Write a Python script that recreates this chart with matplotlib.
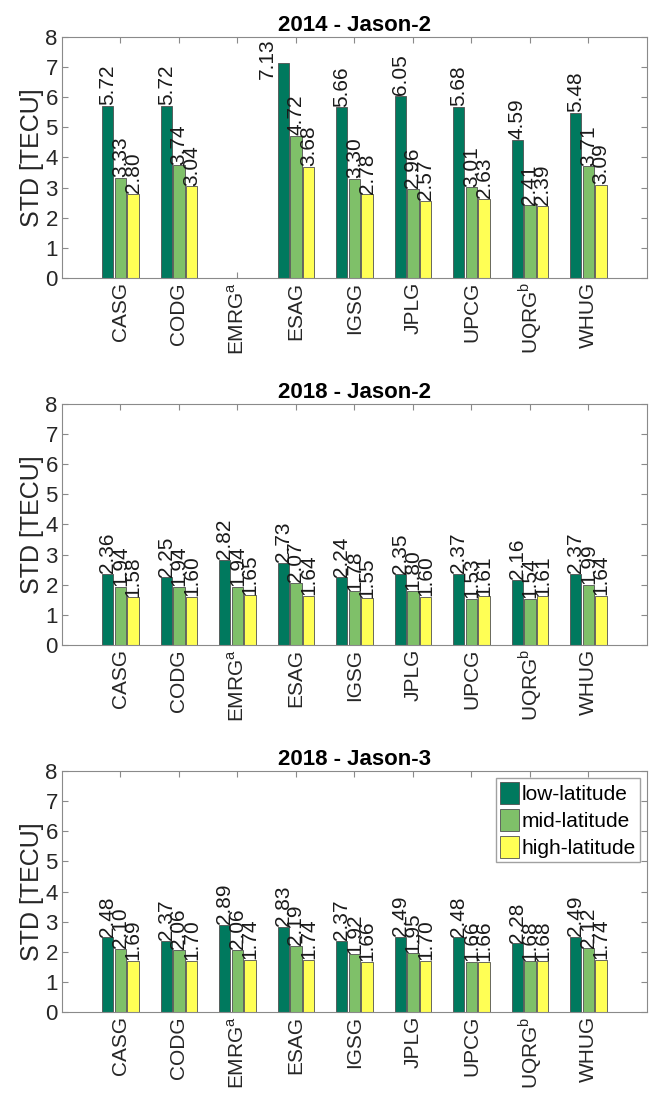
import numpy as np
import matplotlib.pyplot as plt

plt.rcParams['font.family'] = 'Liberation Sans'
plt.rcParams['mathtext.fontset'] = 'custom'
plt.rcParams['mathtext.rm'] = 'Liberation Sans'

centers = ['CASG', 'CODG', r'EMRG$^{\mathrm{a}}$', 'ESAG', 'IGSG',
           'JPLG', 'UPCG', r'UQRG$^{\mathrm{b}}$', 'WHUG']
regions = ['low-latitude', 'mid-latitude', 'high-latitude']

# STD per analysis centre: low / mid / high latitude
j2_2014_low = [5.72, 5.72, np.nan, 7.13, 5.66, 6.05, 5.68, 4.59, 5.48]
j2_2014_mid = [3.33, 3.74, np.nan, 4.72, 3.30, 2.96, 3.01, 2.41, 3.71]
j2_2014_high = [2.80, 3.04, np.nan, 3.68, 2.78, 2.57, 2.63, 2.39, 3.09]

j2_2018_low = [2.36, 2.25, 2.82, 2.73, 2.24, 2.35, 2.37, 2.16, 2.37]
j2_2018_mid = [1.94, 1.94, 1.94, 2.07, 1.78, 1.80, 1.53, 1.54, 1.99]
j2_2018_high = [1.58, 1.60, 1.65, 1.64, 1.55, 1.60, 1.61, 1.61, 1.64]

j3_2018_low = [2.48, 2.37, 2.89, 2.83, 2.37, 2.49, 2.48, 2.28, 2.49]
j3_2018_mid = [2.10, 2.06, 2.06, 2.19, 1.92, 1.95, 1.66, 1.68, 2.12]
j3_2018_high = [1.69, 1.70, 1.74, 1.74, 1.66, 1.70, 1.66, 1.68, 1.74]

panels = [
    ('2014 - Jason-2', [j2_2014_low, j2_2014_mid, j2_2014_high]),
    ('2018 - Jason-2', [j2_2018_low, j2_2018_mid, j2_2018_high]),
    ('2018 - Jason-3', [j3_2018_low, j3_2018_mid, j3_2018_high]),
]

colors = ['#00795E', '#7FC069', '#FFFF55']
offsets = [-0.215, 0.0, 0.215]
bar_w = 0.19
ymax = 8

fig = plt.figure(figsize=(6.51, 10.93), dpi=100)
bottoms = [0.7457, 0.4099, 0.0741]

x = np.arange(1, len(centers) + 1)

for (title, series), b in zip(panels, bottoms):
    ax = fig.add_axes([0.0952, b, 0.8986, 0.2205])
    for vals, col, off, name in zip(series, colors, offsets, regions):
        vals = np.array(vals, dtype=float)
        ax.bar(x + off, vals, width=bar_w, color=col, edgecolor='#505050',
               linewidth=0.6, label=name, zorder=2)
        for xi, v in zip(x + off, vals):
            if np.isnan(v):
                continue
            if v + 1.4 > ymax:
                # no room above the bar, tuck the label in beside it
                ax.text(xi - 0.27, ymax - 0.05, f'{v:.2f}', rotation=90,
                        rotation_mode='anchor', ha='right', va='center',
                        fontsize=15, color='#1a1a1a')
            else:
                ax.text(xi, v + 0.02, f'{v:.2f}', rotation=90,
                        rotation_mode='anchor', ha='left', va='center',
                        fontsize=15, color='#1a1a1a')

    ax.set_xlim(0, len(centers) + 1)
    ax.set_ylim(0, ymax)
    ax.set_xticks(x)
    ax.set_xticklabels(centers, rotation=90, fontsize=15)
    ax.set_yticks(range(0, ymax + 1))
    ax.tick_params(axis='y', labelsize=16)
    ax.tick_params(direction='in', top=True, right=True, length=4,
                   color='#8a8a8a', labelcolor='#262626', pad=3)
    for sp in ax.spines.values():
        sp.set_color('#8a8a8a')
        sp.set_linewidth(0.8)
    ax.set_title(title, fontsize=16, fontweight='bold', pad=4)
    ax.set_ylabel('STD [TECU]', fontsize=18, color='#262626', labelpad=1)

    if title.endswith('Jason-3'):
        ax.legend(loc='upper right', fontsize=15, frameon=True, fancybox=False,
                  edgecolor='#8a8a8a', handlelength=0.9, handleheight=1.2,
                  handletextpad=0.1, borderpad=0.2, labelspacing=0.25,
                  borderaxespad=0.35)

fig.savefig('out.png', dpi=100)
